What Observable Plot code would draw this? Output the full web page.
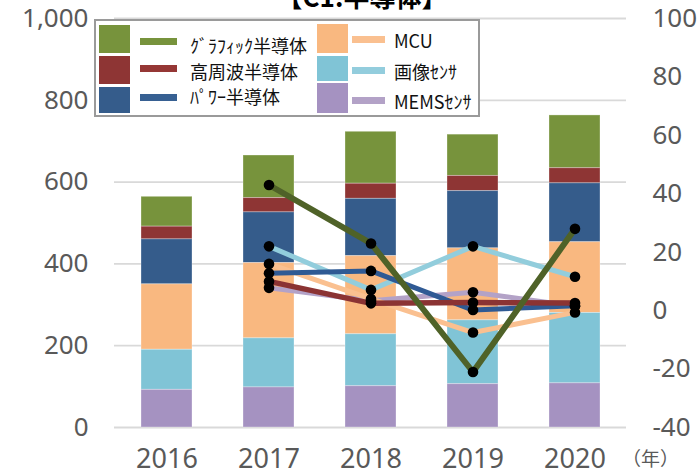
<!DOCTYPE html>
<html>
<head>
<meta charset="utf-8">
<script src="https://cdn.jsdelivr.net/npm/d3@7"></script>
<script src="https://cdn.jsdelivr.net/npm/@observablehq/plot@0.6"></script>
<style>
  html, body { margin: 0; padding: 0; background: #fff; overflow: hidden; }
  #wrap { position: relative; width: 700px; height: 476px; }
  #title { position: absolute; left: 0; width: 724px; top: -17px; text-align: center;
    font-family: "Noto Sans CJK JP", sans-serif; font-weight: bold; font-size: 26px; line-height: 26px; color: #000; z-index: 3; }
  #legend { position: absolute; left: 94px; top: 19px; width: 382px; height: 94px;
    border: 2px solid #9a9a9a; background: #fff; z-index: 2; }
  .lg { position: absolute; }
  .lt { position: absolute; font-family: "Noto Sans CJK JP", sans-serif; font-size: 18px; line-height: 18px; color: #111; white-space: nowrap; }
</style>
</head>
<body>
<div id="wrap">
  <div id="title"></div>
  <div id="legend"></div>
</div>
<script>
// ---- data ----
const titleText = "【C1.半導体】";
const unitText = "（年）";
const years = ["2016", "2017", "2018", "2019", "2020"];
const seriesNames = ["ｸﾞﾗﾌｨｯｸ半導体", "高周波半導体", "ﾊﾟﾜｰ半導体", "MCU", "画像ｾﾝｻ", "MEMSｾﾝｻ"];

// market size (left axis)
const graphicsValues = [73, 104, 127, 101, 129];
const rfValues       = [31, 35, 37, 37, 37];
const powerValues    = [110, 124, 140, 140, 144];
const mcuValues      = [160, 184, 191, 176, 173];
const imageValues    = [98, 120, 127, 156, 172];
const memsValues     = [92, 98, 101, 106, 108];

// growth rate % (right axis)
const graphicsGrowth = [null, 43, 23, -21, 28];
const rfGrowth       = [null, 10, 2.5, 2.8, 2.6];
const powerGrowth    = [null, 12.8, 13.6, 0.2, 1.7];
const mcuGrowth      = [null, 16, 4, -7.5, -0.6];
const imageGrowth    = [null, 22, 7.1, 22, 11.6];
const memsGrowth     = [null, 7.8, 3.4, 6.3, 1.5];

const leftTicks = [0, 200, 400, 600, 800, 1000];
const rightTicks = [-40, -20, 0, 20, 40, 60, 80, 100];

// ---- styles ----
const barColors  = ["#77933C", "#8E3534", "#355C8B", "#F9B880", "#80C4D6", "#A592C1"];
const lineColors = ["#4F6228", "#8B3333", "#2F5A94", "#FAC090", "#92CDDC", "#B3A2C7"];
const legendLineColors = ["#77933C", "#953735", "#376092", "#FAC090", "#93CDDD", "#B3A2C7"];
const lineWidths = [6, 5.5, 5, 5, 5, 5];

const valueSets = [graphicsValues, rfValues, powerValues, mcuValues, imageValues, memsValues];
const growthSets = [graphicsGrowth, rfGrowth, powerGrowth, mcuGrowth, imageGrowth, memsGrowth];

const barRows = [];
seriesNames.forEach((s, i) => years.forEach((y, j) => barRows.push({year: y, series: s, value: valueSets[i][j]})));

const lineRows = seriesNames.map((s, i) => years.map((y, j) => ({year: y, series: s, g: growthSets[i][j]})).filter(d => d.g !== null));

// right axis (-40..100) mapped onto left scale (0..1000)
const toLeft = g => (g + 40) * 1000 / 140;
const fromLeft = v => Math.round(v * 140 / 1000 - 40);

const stackOrder = ["MEMSｾﾝｻ", "画像ｾﾝｻ", "MCU", "ﾊﾟﾜｰ半導体", "高周波半導体", "ｸﾞﾗﾌｨｯｸ半導体"];
const drawOrder = [5, 4, 3, 2, 1, 0];

const marks = [
  Plot.gridY({ticks: leftTicks, stroke: "#d9d9d9", strokeOpacity: 1, strokeWidth: 1.8}),
  Plot.barY(barRows, {x: "year", y: "value", fill: "series", order: stackOrder,
    stroke: "#ffffff", strokeOpacity: 0.3, strokeWidth: 1}),
  ...drawOrder.map(i => Plot.line(lineRows[i], {x: "year", y: d => toLeft(d.g),
    stroke: lineColors[i], strokeWidth: lineWidths[i], curve: "linear", strokeLinejoin: "round"})),
  ...drawOrder.map(i => Plot.dot(lineRows[i], {x: "year", y: d => toLeft(d.g), r: 5.3, fill: "#000"})),
  Plot.axisY({ticks: leftTicks, tickFormat: d3.format(","), tickSize: 0, tickPadding: 26, label: null,
    fontSize: 26, fill: "#595959"}),
  Plot.axisY({ticks: rightTicks.map(toLeft), anchor: "right", tickFormat: d => String(fromLeft(d)),
    tickSize: 0, tickPadding: 26, label: null, fontSize: 26, fill: "#595959"}),
  Plot.axisX({tickSize: 0, tickPadding: 21, label: null, fontSize: 27, fill: "#595959"}),
  Plot.text([unitText], {frameAnchor: "bottom-right", dx: 24, dy: 38, fontSize: 19, fill: "#595959",
    fontFamily: "Noto Sans CJK JP", textAnchor: "middle"})
];

const chart = Plot.plot({
  width: 700,
  height: 476,
  marginLeft: 114,
  marginRight: 74,
  marginTop: 18,
  marginBottom: 49,
  style: {fontFamily: "Noto Sans, sans-serif", fontSize: "26px", color: "#595959", background: "white", overflow: "visible"},
  x: {type: "band", domain: years, paddingInner: 0.5, paddingOuter: 0.25},
  y: {domain: [0, 1000]},
  color: {domain: seriesNames, range: barColors},
  marks
});
const wrap = document.getElementById("wrap");
wrap.insertBefore(chart, wrap.firstChild);

document.getElementById("title").textContent = titleText;

// ---- legend ----
const legend = document.getElementById("legend");
const ox = 96, oy = 21; // legend inner origin on page
const swatchRows = [[25, 28], [56, 28], [87, 26]];
const col2Rows = [[24, 29], [56, 25], [83, 30]];
const lineYs = [[41.5, 68.5, 97.5], [39.5, 70.5, 100.5]];
const textYs = [[45, 70.5, 96], [40, 71, 101]];
const cols = [{sx: 99, lx: 140, lw: 37, tx: 190}, {sx: 317, lx: 352, lw: 33, tx: 394}];
seriesNames.forEach((s, i) => {
  const c = i < 3 ? 0 : 1, r = i % 3;
  const col = cols[c];
  const [sy, sh] = c === 0 ? swatchRows[r] : col2Rows[r];
  const sw = document.createElement("div");
  sw.className = "lg";
  Object.assign(sw.style, {left: (col.sx - ox) + "px", top: (sy - oy) + "px", width: "31px", height: sh + "px", background: barColors[i]});
  legend.appendChild(sw);
  const ln = document.createElement("div");
  ln.className = "lg";
  Object.assign(ln.style, {left: (col.lx - ox) + "px", top: (lineYs[c][r] - 3.5 - oy) + "px", width: col.lw + "px", height: "7px", background: legendLineColors[i]});
  legend.appendChild(ln);
  const tx = document.createElement("div");
  tx.className = "lt";
  tx.textContent = s;
  Object.assign(tx.style, {left: (col.tx - ox) + "px", top: (textYs[c][r] - 9 - oy) + "px"});
  legend.appendChild(tx);
});
</script>
</body>
</html>
